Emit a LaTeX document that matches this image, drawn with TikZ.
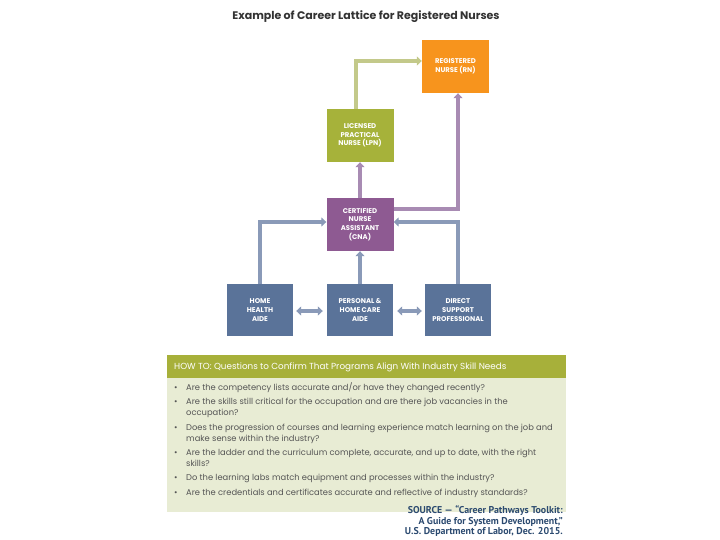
\documentclass[tikz,border=0pt]{standalone}
\usepackage{fontspec}
\setmainfont{Poppins}
\newfontfamily\srcfont{PT Sans}
\usetikzlibrary{arrows.meta}
\definecolor{rnorange}{HTML}{F7941D}
\definecolor{lpngreen}{HTML}{A6B23A}
\definecolor{cnapurple}{HTML}{8E5A92}
\definecolor{aideblue}{HTML}{5A7399}
\definecolor{greenarrow}{HTML}{C3C98A}
\definecolor{purplearrow}{HTML}{A88BB3}
\definecolor{bluearrow}{HTML}{8A9AB8}
\definecolor{hdrgreen}{HTML}{A7B03A}
\definecolor{bodygreen}{HTML}{E8ECD4}
\definecolor{bodytext}{HTML}{555555}
\definecolor{srcblue}{HTML}{2B4A70}
\definecolor{titlegray}{HTML}{333333}
\tikzset{
  jobbox/.style={rectangle, minimum width=67pt, minimum height=53pt, inner sep=0pt,
    text=white, align=center, font=\fontsize{6.9}{8.7}\selectfont\bfseries},
  conn/.style={line width=3.6pt, -{Triangle[length=5pt,width=9pt]}},
  dconn/.style={line width=3.6pt, {Triangle[length=5pt,width=9pt]}-{Triangle[length=5pt,width=9pt]}, draw=bluearrow},
  bullettext/.style={anchor=base west, inner sep=0pt, text=bodytext,
    font=\fontsize{8.35}{11}\selectfont},
  srctext/.style={anchor=base east, inner sep=0pt, text=srcblue, font=\srcfont\bfseries\fontsize{9.9}{10.5}\selectfont}
}
\begin{document}
\begin{tikzpicture}[x=1pt,y=-1pt]
\useasboundingbox (0,0) rectangle (720,540);
\fill[white] (0,0) rectangle (720,540);

\node[anchor=center, inner sep=0pt, text=titlegray, font=\fontsize{11}{13}\selectfont\bfseries] (title) at (366,17) {Example of Career Lattice for Registered Nurses};

% boxes
\node[jobbox, fill=rnorange] (rn) at (455.5,66.5) {REGISTERED\\NURSE (RN)};
\node[jobbox, fill=lpngreen] (lpn) at (360,135.5) {LICENSED\\PRACTICAL\\NURSE (LPN)};
\node[jobbox, fill=cnapurple] (cna) at (360,224.5) {CERTIFIED\\NURSE\\ASSISTANT\\(CNA)};
\node[jobbox, fill=aideblue, minimum width=66pt, minimum height=52pt] (hha) at (260,310) {HOME\\HEALTH\\AIDE};
\node[jobbox, fill=aideblue, minimum width=66pt, minimum height=52pt] (phca) at (360,310) {PERSONAL \&\\HOME CARE\\AIDE};
\node[jobbox, fill=aideblue, minimum width=66pt, minimum height=52pt] (dsp) at (458,310) {DIRECT\\SUPPORT\\PROFESSIONAL};

% connectors
\draw[conn, draw=greenarrow] (lpn.north -| 356,0) |- (rn.west |- 0,61);
\draw[conn, draw=purplearrow] (cna.north) -- (lpn.south);
\draw[conn, draw=purplearrow] (cna.east |- 0,209) -| (rn.south -| 458,0);
\draw[conn, draw=bluearrow] (phca.north) -- (cna.south);
\draw[conn, draw=bluearrow] (hha.north) |- (cna.west |- 0,222);
\draw[conn, draw=bluearrow] (dsp.north) |- (cna.east |- 0,222);
\draw[dconn] ([xshift=3pt]hha.east |- 0,311) -- ([xshift=-4pt]phca.west |- 0,311);
\draw[dconn] ([xshift=4pt]phca.east |- 0,311) -- ([xshift=-3pt]dsp.west |- 0,311);

% HOW TO panel
\fill[bodygreen] (167,378) rectangle (566,512);
\fill[hdrgreen] (167,355) rectangle (566,378);
\node[anchor=base west, inner sep=0pt, text=white, font=\fontsize{8.8}{10}\selectfont] (hdr) at (174,369.5) {HOW TO: Questions to Confirm That Programs Align With Industry Skill Needs};

\node[bullettext] (b1) at (174,390) {•};
\node[bullettext] (t1) at (186,390) {Are the competency lists accurate and/or have they changed recently?};
\node[bullettext] (b2) at (174,404.5) {•};
\node[bullettext] (t2) at (186,404.5) {Are the skills still critical for the occupation and are there job vacancies in the};
\node[bullettext] (t2b) at (186,415.5) {occupation?};
\node[bullettext] (b3) at (174,430) {•};
\node[bullettext] (t3) at (186,430) {Does the progression of courses and learning experience match learning on the job and};
\node[bullettext] (t3b) at (186,441) {make sense within the industry?};
\node[bullettext] (b4) at (174,455) {•};
\node[bullettext] (t4) at (186,455) {Are the ladder and the curriculum complete, accurate, and up to date, with the right};
\node[bullettext] (t4b) at (186,466) {skills?};
\node[bullettext] (b5) at (174,480) {•};
\node[bullettext] (t5) at (186,480) {Do the learning labs match equipment and processes within the industry?};
\node[bullettext] (b6) at (174,495) {•};
\node[bullettext] (t6) at (186,495) {Are the credentials and certificates accurate and reflective of industry standards?};

\node[srctext] (s1) at (563,513.3) {SOURCE — “Career Pathways Toolkit:};
\node[srctext] (s2) at (563,524) {A Guide for System Development,”};
\node[srctext] (s3) at (563,534.3) {U.S. Department of Labor, Dec. 2015.};
\end{tikzpicture}
\end{document}
